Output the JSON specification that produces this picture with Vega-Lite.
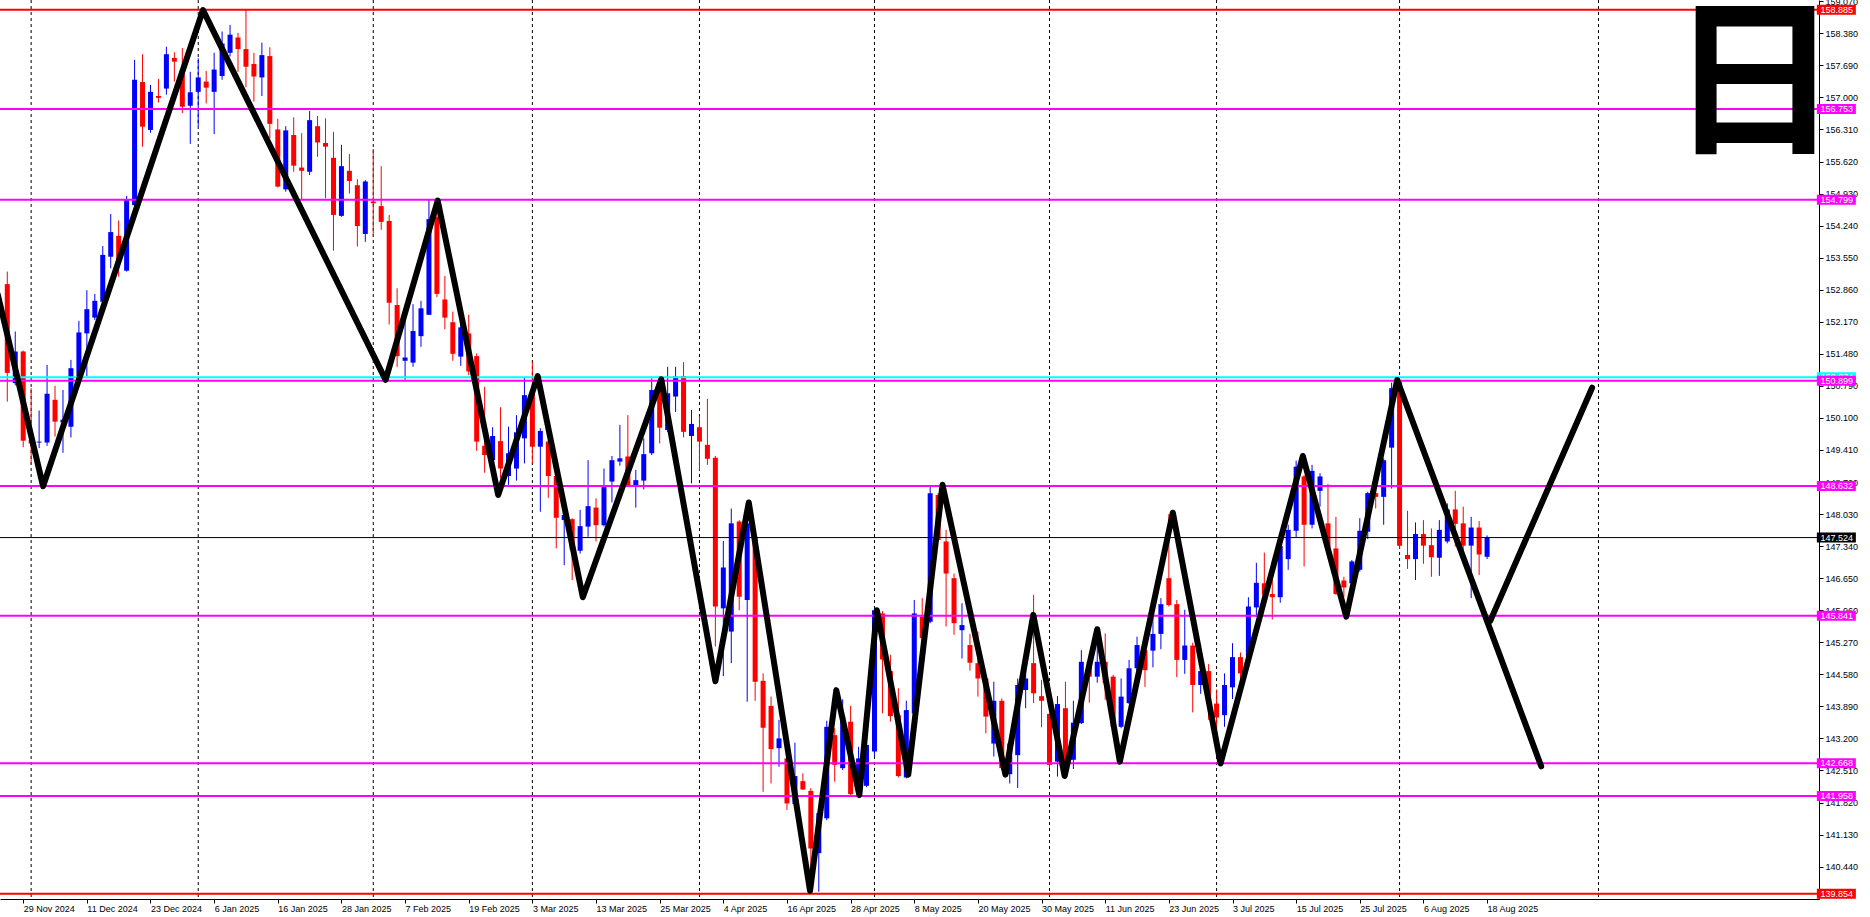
{
  "$schema": "https://vega.github.io/schema/vega-lite/v6.json",
  "width": 1819,
  "height": 899,
  "autosize": {"type": "none"},
  "padding": {"left": 0, "top": 0, "right": 51, "bottom": 18},
  "background": "#FFFFFF",
  "config": {"view": {"stroke": null}, "axis": {"labelOverlap": false}},
  "resolve": {"axis": {"x": "independent", "y": "independent"}},
  "datasets": {
    "candles": [
      {"k":0,"o":152.98,"h":153.25,"l":150.45,"c":151.07},
      {"k":1,"o":150.85,"h":151.96,"l":150.80,"c":151.53},
      {"k":2,"o":151.53,"h":151.55,"l":149.47,"c":149.61},
      {"k":3,"o":149.62,"h":150.74,"l":149.09,"c":149.55},
      {"k":4,"o":149.57,"h":150.26,"l":149.45,"c":149.59},
      {"k":5,"o":149.57,"h":151.24,"l":149.50,"c":150.62},
      {"k":6,"o":150.49,"h":150.79,"l":149.70,"c":150.02},
      {"k":7,"o":150.00,"h":150.70,"l":149.35,"c":150.06},
      {"k":8,"o":149.91,"h":151.35,"l":149.68,"c":151.17},
      {"k":9,"o":151.00,"h":152.19,"l":150.95,"c":151.94},
      {"k":10,"o":151.92,"h":152.85,"l":151.00,"c":152.44},
      {"k":11,"o":152.26,"h":152.77,"l":152.21,"c":152.62},
      {"k":12,"o":152.60,"h":153.80,"l":152.50,"c":153.61},
      {"k":13,"o":153.57,"h":154.49,"l":153.32,"c":154.10},
      {"k":14,"o":154.02,"h":154.35,"l":153.14,"c":153.46},
      {"k":15,"o":153.27,"h":154.88,"l":153.25,"c":154.81},
      {"k":16,"o":154.68,"h":157.81,"l":154.66,"c":157.38},
      {"k":17,"o":157.33,"h":157.93,"l":155.94,"c":156.37},
      {"k":18,"o":156.30,"h":157.27,"l":156.24,"c":157.12},
      {"k":19,"o":157.03,"h":157.40,"l":156.89,"c":156.99},
      {"k":20,"o":157.19,"h":158.09,"l":157.06,"c":157.93},
      {"k":21,"o":157.85,"h":157.97,"l":157.34,"c":157.77},
      {"k":22,"o":157.59,"h":158.06,"l":156.66,"c":156.80},
      {"k":23,"o":156.82,"h":157.55,"l":156.00,"c":157.11},
      {"k":24,"o":157.12,"h":157.84,"l":156.38,"c":157.43},
      {"k":25,"o":157.34,"h":157.57,"l":156.87,"c":157.21},
      {"k":26,"o":157.12,"h":157.96,"l":156.21,"c":157.60},
      {"k":27,"o":157.46,"h":158.42,"l":157.38,"c":158.16},
      {"k":28,"o":157.96,"h":158.56,"l":157.88,"c":158.35},
      {"k":29,"o":158.29,"h":158.39,"l":157.55,"c":158.04},
      {"k":30,"o":158.04,"h":158.885,"l":157.22,"c":157.66},
      {"k":31,"o":157.72,"h":157.96,"l":156.91,"c":157.45},
      {"k":32,"o":157.43,"h":158.18,"l":157.03,"c":157.91},
      {"k":33,"o":157.89,"h":158.08,"l":156.12,"c":156.43},
      {"k":34,"o":156.31,"h":156.54,"l":155.06,"c":155.08},
      {"k":35,"o":155.02,"h":156.38,"l":154.97,"c":156.29},
      {"k":36,"o":156.19,"h":156.57,"l":155.40,"c":155.53},
      {"k":37,"o":155.49,"h":156.23,"l":154.79,"c":155.42},
      {"k":38,"o":155.40,"h":156.71,"l":155.33,"c":156.51},
      {"k":39,"o":156.38,"h":156.60,"l":155.72,"c":156.03},
      {"k":40,"o":156.02,"h":156.55,"l":154.83,"c":155.94},
      {"k":41,"o":155.70,"h":156.26,"l":153.70,"c":154.47},
      {"k":42,"o":154.45,"h":155.98,"l":154.43,"c":155.52},
      {"k":43,"o":155.42,"h":155.78,"l":154.93,"c":155.20},
      {"k":44,"o":155.11,"h":155.24,"l":153.79,"c":154.23},
      {"k":45,"o":154.06,"h":155.22,"l":153.89,"c":155.19},
      {"k":46,"o":154.76,"h":155.89,"l":154.00,"c":154.72},
      {"k":47,"o":154.66,"h":155.52,"l":154.15,"c":154.32},
      {"k":48,"o":154.34,"h":154.47,"l":152.11,"c":152.58},
      {"k":49,"o":152.53,"h":152.89,"l":151.20,"c":151.43},
      {"k":50,"o":151.33,"h":152.21,"l":150.92,"c":151.40},
      {"k":51,"o":151.29,"h":152.55,"l":151.20,"c":151.97},
      {"k":52,"o":151.86,"h":152.62,"l":151.63,"c":152.46},
      {"k":53,"o":152.32,"h":154.79,"l":152.32,"c":154.38},
      {"k":54,"o":154.43,"h":154.76,"l":152.70,"c":152.77},
      {"k":55,"o":152.65,"h":153.16,"l":152.01,"c":152.26},
      {"k":56,"o":152.16,"h":152.39,"l":151.33,"c":151.48},
      {"k":57,"o":151.42,"h":152.14,"l":151.22,"c":152.05},
      {"k":58,"o":151.92,"h":152.32,"l":151.02,"c":151.10},
      {"k":59,"o":151.43,"h":151.49,"l":149.39,"c":149.59},
      {"k":60,"o":149.50,"h":150.77,"l":148.92,"c":149.30},
      {"k":61,"o":149.19,"h":149.90,"l":149.01,"c":149.71},
      {"k":62,"o":149.60,"h":150.33,"l":148.80,"c":149.01},
      {"k":63,"o":148.85,"h":149.91,"l":148.66,"c":149.34},
      {"k":64,"o":149.01,"h":150.16,"l":148.75,"c":149.79},
      {"k":65,"o":149.66,"h":150.97,"l":149.12,"c":150.59},
      {"k":66,"o":150.64,"h":151.30,"l":149.11,"c":149.48},
      {"k":67,"o":149.48,"h":149.88,"l":148.08,"c":149.82},
      {"k":68,"o":149.59,"h":149.62,"l":148.38,"c":148.85},
      {"k":69,"o":148.85,"h":148.91,"l":147.29,"c":147.95},
      {"k":70,"o":147.90,"h":148.08,"l":146.93,"c":148.01},
      {"k":71,"o":147.92,"h":147.94,"l":146.61,"c":147.26},
      {"k":72,"o":147.24,"h":148.12,"l":147.18,"c":147.77},
      {"k":73,"o":147.76,"h":149.19,"l":147.54,"c":148.20},
      {"k":74,"o":148.17,"h":148.37,"l":147.44,"c":147.79},
      {"k":75,"o":147.79,"h":149.01,"l":147.76,"c":148.62},
      {"k":76,"o":148.73,"h":149.28,"l":148.28,"c":149.19},
      {"k":77,"o":149.16,"h":149.95,"l":149.07,"c":149.23},
      {"k":78,"o":149.27,"h":150.16,"l":148.62,"c":148.63},
      {"k":79,"o":148.63,"h":148.98,"l":148.17,"c":148.76},
      {"k":80,"o":148.75,"h":149.66,"l":148.56,"c":149.32},
      {"k":81,"o":149.34,"h":150.95,"l":149.30,"c":150.70},
      {"k":82,"o":150.74,"h":151.00,"l":149.55,"c":149.89},
      {"k":83,"o":149.84,"h":151.20,"l":149.80,"c":150.63},
      {"k":84,"o":150.56,"h":151.20,"l":150.23,"c":150.99},
      {"k":85,"o":151.00,"h":151.30,"l":149.68,"c":149.80},
      {"k":86,"o":149.71,"h":150.27,"l":148.69,"c":149.97},
      {"k":87,"o":149.90,"h":150.14,"l":148.96,"c":149.59},
      {"k":88,"o":149.52,"h":150.51,"l":149.09,"c":149.22},
      {"k":89,"o":149.24,"h":149.28,"l":145.18,"c":146.04},
      {"k":90,"o":146.00,"h":147.45,"l":144.54,"c":146.88},
      {"k":91,"o":145.50,"h":148.15,"l":144.82,"c":147.83},
      {"k":92,"o":147.87,"h":147.90,"l":145.96,"c":146.25},
      {"k":93,"o":146.18,"h":148.08,"l":143.99,"c":147.83},
      {"k":94,"o":147.54,"h":147.72,"l":144.01,"c":144.42},
      {"k":95,"o":144.44,"h":144.60,"l":142.05,"c":143.43},
      {"k":96,"o":143.90,"h":144.10,"l":142.23,"c":142.97},
      {"k":97,"o":142.99,"h":143.60,"l":142.59,"c":143.20},
      {"k":98,"o":142.77,"h":143.02,"l":141.66,"c":141.80},
      {"k":99,"o":141.79,"h":143.11,"l":141.77,"c":142.39},
      {"k":100,"o":142.28,"h":142.45,"l":142.09,"c":142.10},
      {"k":101,"o":142.07,"h":142.13,"l":139.854,"c":140.83},
      {"k":102,"o":140.73,"h":141.66,"l":139.90,"c":141.59},
      {"k":103,"o":141.48,"h":143.58,"l":141.44,"c":143.45},
      {"k":104,"o":143.27,"h":143.42,"l":142.27,"c":142.63},
      {"k":105,"o":142.56,"h":144.04,"l":142.52,"c":143.67},
      {"k":106,"o":143.56,"h":143.90,"l":141.98,"c":142.00},
      {"k":107,"o":142.02,"h":143.02,"l":141.95,"c":142.77},
      {"k":108,"o":142.18,"h":143.09,"l":142.15,"c":143.06},
      {"k":109,"o":142.92,"h":146.00,"l":142.81,"c":145.96},
      {"k":110,"o":145.89,"h":145.94,"l":143.74,"c":144.90},
      {"k":111,"o":144.65,"h":145.00,"l":143.56,"c":143.68},
      {"k":112,"o":143.70,"h":144.28,"l":142.36,"c":142.39},
      {"k":113,"o":142.36,"h":144.01,"l":142.34,"c":143.81},
      {"k":114,"o":143.74,"h":146.18,"l":143.70,"c":145.89},
      {"k":115,"o":145.82,"h":146.22,"l":145.28,"c":145.36},
      {"k":116,"o":145.71,"h":148.65,"l":145.68,"c":148.48},
      {"k":117,"o":148.44,"h":148.48,"l":147.44,"c":147.47},
      {"k":118,"o":147.44,"h":147.69,"l":145.61,"c":146.75},
      {"k":119,"o":146.65,"h":146.75,"l":145.43,"c":145.68},
      {"k":120,"o":145.53,"h":146.11,"l":144.92,"c":145.64},
      {"k":121,"o":145.21,"h":145.45,"l":144.66,"c":144.83},
      {"k":122,"o":144.82,"h":145.50,"l":144.10,"c":144.49},
      {"k":123,"o":144.49,"h":144.53,"l":143.31,"c":143.67},
      {"k":124,"o":143.09,"h":144.42,"l":142.81,"c":144.01},
      {"k":125,"o":144.01,"h":144.06,"l":142.52,"c":142.56},
      {"k":126,"o":142.43,"h":143.17,"l":142.23,"c":143.09},
      {"k":127,"o":142.84,"h":144.49,"l":142.13,"c":144.35},
      {"k":128,"o":144.24,"h":144.67,"l":143.85,"c":144.49},
      {"k":129,"o":144.82,"h":146.29,"l":143.96,"c":144.17},
      {"k":130,"o":144.11,"h":144.46,"l":143.44,"c":144.01},
      {"k":131,"o":143.73,"h":143.74,"l":142.56,"c":142.63},
      {"k":132,"o":142.70,"h":144.11,"l":142.38,"c":143.94},
      {"k":133,"o":143.85,"h":144.42,"l":142.54,"c":142.70},
      {"k":134,"o":142.74,"h":144.01,"l":142.54,"c":143.54},
      {"k":135,"o":143.53,"h":145.10,"l":143.51,"c":144.85},
      {"k":136,"o":144.85,"h":144.89,"l":143.97,"c":144.53},
      {"k":137,"o":144.53,"h":145.32,"l":144.40,"c":144.85},
      {"k":138,"o":144.85,"h":145.46,"l":144.03,"c":144.39},
      {"k":139,"o":144.53,"h":144.57,"l":143.42,"c":143.45},
      {"k":140,"o":143.45,"h":144.49,"l":143.42,"c":144.10},
      {"k":141,"o":143.96,"h":144.89,"l":143.94,"c":144.71},
      {"k":142,"o":144.71,"h":145.39,"l":144.67,"c":145.21},
      {"k":143,"o":145.10,"h":145.18,"l":144.31,"c":144.67},
      {"k":144,"o":145.09,"h":145.82,"l":144.73,"c":145.45},
      {"k":145,"o":145.45,"h":146.22,"l":145.12,"c":146.09},
      {"k":146,"o":146.65,"h":148.03,"l":146.04,"c":146.07},
      {"k":147,"o":146.09,"h":146.18,"l":144.52,"c":144.89},
      {"k":148,"o":144.89,"h":145.97,"l":144.59,"c":145.20},
      {"k":149,"o":145.20,"h":145.26,"l":143.76,"c":144.35},
      {"k":150,"o":144.35,"h":144.67,"l":144.16,"c":144.65},
      {"k":151,"o":144.65,"h":144.80,"l":143.60,"c":143.95},
      {"k":152,"o":143.95,"h":144.25,"l":143.20,"c":143.65},
      {"k":153,"o":143.70,"h":144.60,"l":143.45,"c":144.35},
      {"k":154,"o":144.30,"h":145.25,"l":144.05,"c":144.95},
      {"k":155,"o":144.95,"h":145.05,"l":144.40,"c":144.60},
      {"k":156,"o":144.95,"h":146.24,"l":144.80,"c":146.04},
      {"k":157,"o":146.02,"h":146.98,"l":145.82,"c":146.55},
      {"k":158,"o":146.54,"h":147.20,"l":146.11,"c":146.29},
      {"k":159,"o":146.31,"h":146.61,"l":145.76,"c":146.24},
      {"k":160,"o":146.24,"h":147.41,"l":146.12,"c":147.34},
      {"k":161,"o":147.06,"h":147.80,"l":146.83,"c":147.69},
      {"k":162,"o":147.67,"h":149.18,"l":147.53,"c":149.05},
      {"k":163,"o":148.84,"h":148.87,"l":146.90,"c":147.80},
      {"k":164,"o":147.80,"h":149.09,"l":147.72,"c":148.96},
      {"k":165,"o":148.53,"h":148.91,"l":148.19,"c":148.84},
      {"k":166,"o":147.83,"h":148.68,"l":147.22,"c":147.33},
      {"k":167,"o":147.29,"h":147.97,"l":146.29,"c":146.31},
      {"k":168,"o":146.60,"h":146.68,"l":146.25,"c":146.45},
      {"k":169,"o":146.54,"h":147.04,"l":146.50,"c":147.01},
      {"k":170,"o":146.83,"h":147.94,"l":146.79,"c":147.67},
      {"k":171,"o":147.65,"h":148.51,"l":147.49,"c":148.48},
      {"k":172,"o":148.48,"h":148.55,"l":148.15,"c":148.40},
      {"k":173,"o":148.40,"h":149.23,"l":147.80,"c":149.19},
      {"k":174,"o":149.46,"h":150.86,"l":148.58,"c":150.74},
      {"k":175,"o":150.88,"h":150.91,"l":147.28,"c":147.35},
      {"k":176,"o":147.15,"h":148.10,"l":146.85,"c":147.06},
      {"k":177,"o":147.06,"h":147.85,"l":146.61,"c":147.60},
      {"k":178,"o":147.60,"h":147.90,"l":146.96,"c":147.35},
      {"k":179,"o":147.36,"h":147.72,"l":146.68,"c":147.10},
      {"k":180,"o":147.09,"h":147.90,"l":146.70,"c":147.69},
      {"k":181,"o":147.44,"h":148.26,"l":147.40,"c":148.13},
      {"k":182,"o":148.13,"h":148.53,"l":147.33,"c":147.82},
      {"k":183,"o":147.83,"h":148.19,"l":147.26,"c":147.35},
      {"k":184,"o":147.35,"h":147.97,"l":146.22,"c":147.74},
      {"k":185,"o":147.74,"h":147.88,"l":146.72,"c":147.16},
      {"k":186,"o":147.11,"h":147.57,"l":147.06,"c":147.524}
    ],
    "levels": [
      {"p":158.885,"kind":"range"},
      {"p":139.854,"kind":"range"},
      {"p":156.753,"kind":"level"},
      {"p":154.799,"kind":"level"},
      {"p":150.974,"kind":"ref"},
      {"p":150.899,"kind":"level"},
      {"p":148.632,"kind":"level"},
      {"p":145.841,"kind":"level"},
      {"p":142.668,"kind":"level"},
      {"p":141.958,"kind":"level"},
      {"p":147.524,"kind":"bid"}
    ],
    "zigzag": [
      {"seg":"a","o":0,"k":-1.2,"p":152.76},
      {"seg":"a","o":1,"k":4.5,"p":148.63},
      {"seg":"a","o":2,"k":24.6,"p":158.88},
      {"seg":"a","o":3,"k":47.55,"p":150.92},
      {"seg":"a","o":4,"k":54.1,"p":154.78},
      {"seg":"a","o":5,"k":61.7,"p":148.44},
      {"seg":"a","o":6,"k":66.67,"p":151.0},
      {"seg":"a","o":7,"k":72.34,"p":146.24},
      {"seg":"a","o":8,"k":82.2,"p":150.93},
      {"seg":"a","o":9,"k":89.0,"p":144.43},
      {"seg":"a","o":10,"k":93.2,"p":148.28},
      {"seg":"a","o":11,"k":100.9,"p":139.92},
      {"seg":"a","o":12,"k":104.2,"p":144.24},
      {"seg":"a","o":13,"k":107.1,"p":141.98},
      {"seg":"a","o":14,"k":109.3,"p":145.96},
      {"seg":"a","o":15,"k":113.25,"p":142.42},
      {"seg":"a","o":16,"k":117.55,"p":148.66},
      {"seg":"a","o":17,"k":125.46,"p":142.42},
      {"seg":"a","o":18,"k":128.96,"p":145.86},
      {"seg":"a","o":19,"k":132.9,"p":142.39},
      {"seg":"a","o":20,"k":137.0,"p":145.55},
      {"seg":"a","o":21,"k":139.84,"p":142.70},
      {"seg":"a","o":22,"k":146.5,"p":148.06},
      {"seg":"a","o":23,"k":152.5,"p":142.66},
      {"seg":"a","o":24,"k":162.84,"p":149.28},
      {"seg":"a","o":25,"k":168.3,"p":145.82},
      {"seg":"a","o":26,"k":174.7,"p":150.916},
      {"seg":"a","o":27,"k":192.8,"p":142.6},
      {"seg":"b","o":0,"k":186.4,"p":145.73},
      {"seg":"b","o":1,"k":199.2,"p":150.75}
    ]
  },
  "layer": [
    {
      "data": {"values": [{"k":3},{"k":24},{"k":46},{"k":66},{"k":87},{"k":109},{"k":131},{"k":152},{"k":175},{"k":200}]},
      "mark": {"type": "rule", "color": "#000000", "strokeWidth": 1, "strokeDash": [3, 3]},
      "encoding": {
        "x": {"field": "k", "type": "quantitative", "scale": {"domain": [-0.2875, 227.09], "nice": false, "zero": false}, "axis": null}
      }
    },
    {
      "data": {"name": "candles"},
      "mark": {"type": "rule", "strokeWidth": 1},
      "encoding": {
        "x": {"field": "k", "type": "quantitative", "scale": {"domain": [-0.2875, 227.09], "nice": false, "zero": false},
          "axis": {"orient": "bottom", "title": null, "grid": false, "zindex": 0,
            "values": [2,10,18,26,34,42,50,58,66,74,82,90,98,106,114,122,130,138,146,154,162,170,178,186],
            "labelExpr": "['29 Nov 2024','11 Dec 2024','23 Dec 2024','6 Jan 2025','16 Jan 2025','28 Jan 2025','7 Feb 2025','19 Feb 2025','3 Mar 2025','13 Mar 2025','25 Mar 2025','4 Apr 2025','16 Apr 2025','28 Apr 2025','8 May 2025','20 May 2025','30 May 2025','11 Jun 2025','23 Jun 2025','3 Jul 2025','15 Jul 2025','25 Jul 2025','6 Aug 2025','18 Aug 2025'][(datum.value - 2) / 8]",
            "labelAlign": "left", "labelBaseline": "top", "labelPadding": 1, "labelDx": 1,
            "labelFont": "Liberation Sans", "labelFontSize": 9, "labelColor": "#000000",
            "labelOverlap": false, "labelFlush": false, "labelBound": false,
            "tickSize": 4, "tickColor": "#000000", "domainColor": "#000000", "domainWidth": 1}},
        "y": {"field": "l", "type": "quantitative", "scale": {"domain": [139.743, 159.097], "nice": false, "zero": false},
          "axis": {"orient": "right", "title": null, "grid": false, "zindex": 0,
            "values": [140.44,141.13,141.82,142.51,143.2,143.89,144.58,145.27,145.96,146.65,147.34,148.03,148.72,149.41,150.1,150.79,151.48,152.17,152.86,153.55,154.24,154.93,155.62,156.31,157.0,157.69,158.38,159.07],
            "format": ".3f", "labelAlign": "left", "labelBaseline": "middle", "labelPadding": 2,
            "labelFont": "Liberation Sans", "labelFontSize": 9, "labelColor": "#000000",
            "labelOverlap": false, "labelFlush": false, "labelBound": false,
            "tickSize": 4, "tickColor": "#000000", "domainColor": "#000000", "domainWidth": 1}},
        "y2": {"field": "h"},
        "color": {"condition": {"test": "datum.c >= datum.o", "value": "#0000FF"}, "value": "#FF0000"}
      }
    },
    {
      "data": {"name": "candles"},
      "mark": {"type": "bar", "size": 5},
      "encoding": {
        "x": {"field": "k", "type": "quantitative", "scale": {"domain": [-0.2875, 227.09], "nice": false, "zero": false}, "axis": null},
        "y": {"field": "o", "type": "quantitative", "scale": {"domain": [139.743, 159.097], "nice": false, "zero": false}, "axis": null},
        "y2": {"field": "c"},
        "color": {"condition": {"test": "datum.c >= datum.o", "value": "#0000FF"}, "value": "#FF0000"}
      }
    },
    {
      "data": {"name": "levels"},
      "transform": [{"filter": "datum.kind != 'bid'"}],
      "mark": {"type": "rule", "strokeWidth": 2},
      "encoding": {
        "y": {"field": "p", "type": "quantitative", "scale": {"domain": [139.743, 159.097], "nice": false, "zero": false}, "axis": null},
        "color": {"field": "kind", "type": "nominal", "scale": {"domain": ["range", "level", "ref", "bid"], "range": ["#FF0000", "#FF00FF", "#00FFFF", "#000000"]}, "legend": null}
      }
    },
    {
      "data": {"name": "levels"},
      "transform": [{"filter": "datum.kind == 'bid'"}],
      "mark": {"type": "rule", "strokeWidth": 1, "color": "#000000"},
      "encoding": {
        "y": {"field": "p", "type": "quantitative", "scale": {"domain": [139.743, 159.097], "nice": false, "zero": false}, "axis": null}
      }
    },
    {
      "data": {"name": "zigzag"},
      "mark": {"type": "line", "color": "#000000", "strokeWidth": 6, "strokeCap": "round", "strokeJoin": "round", "clip": true},
      "encoding": {
        "x": {"field": "k", "type": "quantitative", "scale": {"domain": [-0.2875, 227.09], "nice": false, "zero": false}, "axis": null},
        "y": {"field": "p", "type": "quantitative", "scale": {"domain": [139.743, 159.097], "nice": false, "zero": false}, "axis": null},
        "detail": {"field": "seg", "type": "nominal"},
        "order": {"field": "o", "type": "quantitative"}
      }
    },
    {
      "data": {"name": "levels"},
      "transform": [{"filter": "datum.kind == 'ref'"}],
      "mark": {"type": "tick", "orient": "horizontal", "size": 39, "thickness": 10, "opacity": 1},
      "encoding": {
        "x": {"datum": 229.9, "type": "quantitative", "scale": {"domain": [-0.2875, 227.09], "nice": false, "zero": false}, "axis": null},
        "y": {"field": "p", "type": "quantitative", "scale": {"domain": [139.743, 159.097], "nice": false, "zero": false}, "axis": null},
        "color": {"field": "kind", "type": "nominal", "scale": {"domain": ["range", "level", "ref", "bid"], "range": ["#FF0000", "#FF00FF", "#00FFFF", "#000000"]}, "legend": null}
      }
    },
    {
      "data": {"name": "levels"},
      "transform": [{"filter": "datum.kind == 'ref'"}],
      "mark": {"type": "text", "align": "left", "baseline": "middle", "font": "Liberation Sans", "fontSize": 9, "color": "#FFFFFF"},
      "encoding": {
        "x": {"datum": 227.9, "type": "quantitative", "scale": {"domain": [-0.2875, 227.09], "nice": false, "zero": false}, "axis": null},
        "y": {"field": "p", "type": "quantitative", "scale": {"domain": [139.743, 159.097], "nice": false, "zero": false}, "axis": null},
        "text": {"field": "p", "type": "quantitative", "format": ".3f"}
      }
    },
    {
      "data": {"name": "levels"},
      "transform": [{"filter": "datum.kind != 'ref'"}],
      "mark": {"type": "tick", "orient": "horizontal", "size": 39, "thickness": 10, "opacity": 1},
      "encoding": {
        "x": {"datum": 229.9, "type": "quantitative", "scale": {"domain": [-0.2875, 227.09], "nice": false, "zero": false}, "axis": null},
        "y": {"field": "p", "type": "quantitative", "scale": {"domain": [139.743, 159.097], "nice": false, "zero": false}, "axis": null},
        "color": {"field": "kind", "type": "nominal", "scale": {"domain": ["range", "level", "ref", "bid"], "range": ["#FF0000", "#FF00FF", "#00FFFF", "#000000"]}, "legend": null}
      }
    },
    {
      "data": {"name": "levels"},
      "transform": [{"filter": "datum.kind != 'ref'"}],
      "mark": {"type": "text", "align": "left", "baseline": "middle", "font": "Liberation Sans", "fontSize": 9, "color": "#FFFFFF"},
      "encoding": {
        "x": {"datum": 227.9, "type": "quantitative", "scale": {"domain": [-0.2875, 227.09], "nice": false, "zero": false}, "axis": null},
        "y": {"field": "p", "type": "quantitative", "scale": {"domain": [139.743, 159.097], "nice": false, "zero": false}, "axis": null},
        "text": {"field": "p", "type": "quantitative", "format": ".3f"}
      }
    },
    {
      "data": {"values": [{"t": "日"}]},
      "mark": {"type": "text", "align": "center", "baseline": "middle", "font": "Noto Sans CJK JP", "fontSize": 170, "fontWeight": "bold", "color": "#000000"},
      "encoding": {
        "x": {"datum": 219.6, "type": "quantitative", "scale": {"domain": [-0.2875, 227.09], "nice": false, "zero": false}, "axis": null},
        "y": {"datum": 157.16, "type": "quantitative", "scale": {"domain": [139.743, 159.097], "nice": false, "zero": false}, "axis": null},
        "text": {"field": "t", "type": "nominal"}
      }
    }
  ]
}
